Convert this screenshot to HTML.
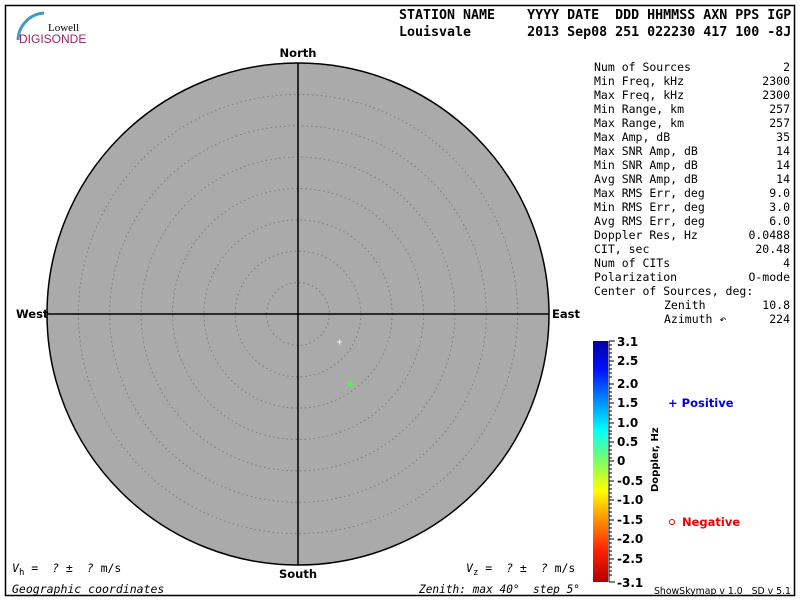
<!DOCTYPE html>
<html><head><meta charset="utf-8"><style>
body{margin:0;width:800px;height:600px;background:#fff;overflow:hidden}
svg{display:block}
text{white-space:pre}
.h{font-family:"DejaVu Sans Mono",monospace;font-weight:bold;font-size:13.3px}
.m{font-family:"DejaVu Sans Mono",monospace;font-size:11.5px}
.b{font-family:"DejaVu Sans",sans-serif;font-weight:bold;font-size:12px}
.c{font-family:"DejaVu Sans",sans-serif;font-weight:bold;font-size:11.5px}
</style></head><body>
<svg width="800" height="600" xmlns="http://www.w3.org/2000/svg">
<rect x="5.5" y="5.5" width="789" height="590" fill="none" stroke="#000" stroke-width="1.5"/>
<path d="M18,40 A28,28 0 0 1 44,13" fill="none" stroke="#3a9cc8" stroke-width="3"/>
<text x="48" y="31" font-family="Liberation Serif,serif" font-size="11">Lowell</text>
<text x="19" y="43" font-family="Liberation Sans,sans-serif" font-size="12" fill="#9b2460">DIGISONDE</text>
<text x="399" y="19" class="h">STATION NAME    YYYY DATE  DDD HHMMSS AXN PPS IGP</text>
<text x="399" y="36" class="h">Louisvale       2013 Sep08 251 022230 417 100 -8J</text>
<circle cx="298" cy="314" r="251" fill="#aaa" stroke="#000" stroke-width="1.5"/>
<g fill="none" stroke="#777" stroke-dasharray="1.5,3">
<circle cx="298" cy="314" r="31.4"/><circle cx="298" cy="314" r="62.8"/><circle cx="298" cy="314" r="94.1"/><circle cx="298" cy="314" r="125.5"/><circle cx="298" cy="314" r="156.9"/><circle cx="298" cy="314" r="188.3"/><circle cx="298" cy="314" r="219.6"/>
</g>
<line x1="298" y1="63" x2="298" y2="565" stroke="#000" stroke-width="1.5"/>
<line x1="47" y1="314" x2="549" y2="314" stroke="#000" stroke-width="1.5"/>
<g stroke-width="1"><path d="M337,342h5M339.5,339.5v5" stroke="#cfe"/>
<path d="M347,384h7M350.5,380.5v7" stroke="#4f4" stroke-width="1.5"/></g>
<text x="298" y="57" class="c" text-anchor="middle">North</text>
<text x="298" y="578" class="c" text-anchor="middle">South</text>
<text x="16" y="318" class="c">West</text>
<text x="552" y="318" class="c">East</text>
<g class="m">
<text x="12" y="572"><tspan font-style="italic">V</tspan><tspan font-size="9" dy="3">h</tspan><tspan dy="-3"> =  </tspan><tspan font-style="italic">?</tspan><tspan> ±  </tspan><tspan font-style="italic">?</tspan><tspan> m/s</tspan></text>
<text x="12" y="593" font-style="italic">Geographic coordinates</text>
<text x="466" y="572"><tspan font-style="italic">V</tspan><tspan font-size="9" dy="3">z</tspan><tspan dy="-3"> =  </tspan><tspan font-style="italic">?</tspan><tspan> ±  </tspan><tspan font-style="italic">?</tspan><tspan> m/s</tspan></text>
<text x="419" y="593" font-style="italic" textLength="161" lengthAdjust="spacingAndGlyphs">Zenith: max 40°  step 5°</text>
</g>
<g class="m">
<text x="594" y="71">Num of Sources</text><text x="790" y="71" text-anchor="end">2</text>
<text x="594" y="85">Min Freq, kHz</text><text x="790" y="85" text-anchor="end">2300</text>
<text x="594" y="99">Max Freq, kHz</text><text x="790" y="99" text-anchor="end">2300</text>
<text x="594" y="113">Min Range, km</text><text x="790" y="113" text-anchor="end">257</text>
<text x="594" y="127">Max Range, km</text><text x="790" y="127" text-anchor="end">257</text>
<text x="594" y="141">Max Amp, dB</text><text x="790" y="141" text-anchor="end">35</text>
<text x="594" y="155">Max SNR Amp, dB</text><text x="790" y="155" text-anchor="end">14</text>
<text x="594" y="169">Min SNR Amp, dB</text><text x="790" y="169" text-anchor="end">14</text>
<text x="594" y="183">Avg SNR Amp, dB</text><text x="790" y="183" text-anchor="end">14</text>
<text x="594" y="197">Max RMS Err, deg</text><text x="790" y="197" text-anchor="end">9.0</text>
<text x="594" y="211">Min RMS Err, deg</text><text x="790" y="211" text-anchor="end">3.0</text>
<text x="594" y="225">Avg RMS Err, deg</text><text x="790" y="225" text-anchor="end">6.0</text>
<text x="594" y="239">Doppler Res, Hz</text><text x="790" y="239" text-anchor="end">0.0488</text>
<text x="594" y="253">CIT, sec</text><text x="790" y="253" text-anchor="end">20.48</text>
<text x="594" y="267">Num of CITs</text><text x="790" y="267" text-anchor="end">4</text>
<text x="594" y="281">Polarization</text><text x="790" y="281" text-anchor="end">O-mode</text>
<text x="594" y="295">Center of Sources, deg:</text>
<text x="664" y="309">Zenith</text><text x="790" y="309" text-anchor="end">10.8</text>
<text x="664" y="323">Azimuth ↶</text><text x="790" y="323" text-anchor="end">224</text>
</g>
<defs><linearGradient id="g" x1="0" y1="0" x2="0" y2="1">
<stop offset="0" stop-color="#0000a0"/><stop offset="0.12" stop-color="#0010ff"/><stop offset="0.37" stop-color="#00ffff"/><stop offset="0.5" stop-color="#80ff60"/><stop offset="0.62" stop-color="#ffff00"/><stop offset="0.87" stop-color="#ff2000"/><stop offset="1" stop-color="#b00000"/>
</linearGradient></defs>
<rect x="593" y="341" width="15" height="241" fill="url(#g)"/>
<line x1="609" y1="341" x2="609" y2="582" stroke="#000"/>
<g class="b">
<text x="617" y="346">3.1</text><text x="617" y="365">2.5</text><text x="617" y="388">2.0</text><text x="617" y="407">1.5</text><text x="617" y="427">1.0</text><text x="617" y="446">0.5</text><text x="617" y="465">0</text><text x="617" y="485">-0.5</text><text x="617" y="504">-1.0</text><text x="617" y="524">-1.5</text><text x="617" y="543">-2.0</text><text x="617" y="563">-2.5</text><text x="617" y="587">-3.1</text>
</g>
<g stroke="#000"><path d="M609,341h6M609,361h5M609,384h5M609,403h5M609,423h5M609,442h5M609,461h5M609,481h5M609,500h5M609,520h5M609,539h5M609,559h5M609,582h6"/></g>
<g stroke="#000"><path d="M609,345h3M609,349h3M609,353h3M609,357h3M609,365h3M609,369h3M609,373h3M609,377h3M609,388h3M609,392h3M609,396h3M609,399h3M609,407h3M609,411h3M609,415h3M609,419h3M609,427h3M609,431h3M609,434h3M609,438h3M609,446h3M609,450h3M609,454h3M609,458h3M609,465h3M609,469h3M609,473h3M609,477h3M609,485h3M609,489h3M609,493h3M609,497h3M609,504h3M609,508h3M609,512h3M609,516h3M609,524h3M609,528h3M609,532h3M609,536h3M609,543h3M609,547h3M609,551h3M609,555h3M609,563h3M609,567h3M609,571h3M609,575h3"/></g>
<text transform="translate(658,492) rotate(-90)" font-family="DejaVu Sans,sans-serif" font-weight="bold" font-size="10">Doppler, Hz</text>
<text x="668" y="407" class="c" fill="#0000e0" font-size="11">+ Positive</text>
<circle cx="672" cy="522" r="2.5" fill="none" stroke="#e00"/>
<text x="682" y="526" class="c" fill="#e00" font-size="11">Negative</text>
<text x="654" y="594" font-family="DejaVu Sans,sans-serif" font-size="10" textLength="137" lengthAdjust="spacingAndGlyphs">ShowSkymap v 1.0   SD v 5.1</text>
</svg>
</body></html>
